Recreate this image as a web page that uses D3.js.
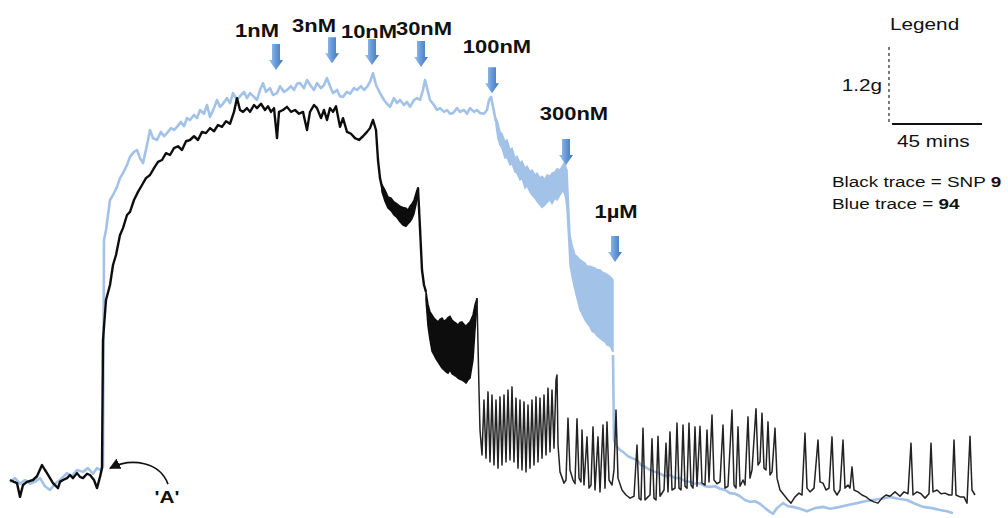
<!DOCTYPE html>
<html>
<head>
<meta charset="utf-8">
<script src="https://cdn.jsdelivr.net/npm/d3@7"></script>
<style>
  html, body { margin: 0; padding: 0; background: #fff; }
  svg { display: block; }
</style>
</head>
<body>
<svg id="chart" width="1008" height="518"></svg>
<script>
// Organ-bath tension recordings: [time (min), tension (g)]
// SNP 9 (black) until the 30 nM dose
const blackTrace = [
  [0,0.64],[2,0.61],[3.5,0.59],[5,0.37],[6.5,0.56],[8.5,0.61],[11.5,0.64],[13.5,0.70],[16,0.88],[17.5,0.80],
  [18.5,0.75],[20,0.67],[21.5,0.59],[24,0.51],[25,0.61],[26.5,0.64],[28.5,0.67],[30,0.72],[31.5,0.67],[33.5,0.75],
  [35,0.69],[36.5,0.67],[38.5,0.74],[40,0.72],[42,0.64],[43.5,0.51],[45,0.69],[46,0.83],
  [46.5,2.88],[48,3.52],[50,3.76],[51.5,4.08],[53,4.24],[55,4.56],[56.5,4.67],[58.5,4.88],[60,4.93],[62,5.12],
  [64,5.25],[66,5.36],[68,5.47],[70,5.52],[72,5.63],[74,5.73],[76,5.76],[78,5.87],[80,5.84],[82,5.95],[84,5.98],
  [86,5.92],[88,6.06],[90,6.08],[92,6.14],[94,6.08],[96,6.21],[98,6.19],[100,6.27],[102,6.22],[104,6.32],[106,6.29],
  [108,6.38],[110,6.34],[112,6.53],[113.5,6.75],[115,6.56],[116.5,6.53],[118.5,6.59],[120,6.53],[122,6.64],[123.5,6.59],
  [125.5,6.66],[127.5,6.56],[129,6.62],[130.5,6.53],[132,6.59],[133.5,6.11],[134.5,6.53],[136.5,6.56],[138.5,6.61],
  [140.5,6.53],[142.5,6.56],[144.5,6.50],[146.5,6.53],[148.5,6.24],[150,6.53],[152,6.64],[153.5,6.59],[155.5,6.43],
  [157,6.56],[158.5,6.40],[160,6.59],[161.5,6.53],[163,6.62],[165,6.29],[166.5,6.43],[168.5,6.21],[170.5,6.18],
  [172.5,6.11],[174.5,6.08],[176.5,6.14],[178.5,6.21],[180,6.27],[181.5,6.40],[183,6.24],[184,5.76],[185,5.47],
  [186.5,5.25],[188,5.15],[190,5.04],[192,4.96],[194,4.90],[196,4.80],[198,4.83],[200,4.86],[201.5,4.96],[203,5.12],
  [204,5.31],[205,4.67],[206,4.00],[207,3.76],[208,3.65]
];
// Oscillation envelopes of the black trace: [time, low, high]
const blackBand10 = [
  [186,5.25,5.36],[187.5,5.10,5.28],[189,4.99,5.17],[190.5,4.95,5.15],[192,4.88,5.09],[193.5,4.84,5.06],
  [195,4.77,5.02],[196.5,4.72,5.00],[198,4.70,4.99],[199,4.74,4.96],[200,4.77,5.02],[201,4.82,5.06],
  [202,4.90,5.12],[203.5,5.12,5.28]
];
const blackBand30 = [
  [208,3.52,3.65],[209,3.10,3.45],[210,2.88,3.33],[211,2.70,3.28],[212,2.64,3.23],[213,2.58,3.20],[214,2.53,3.17],
  [215,2.48,3.21],[216,2.43,3.23],[217,2.40,3.18],[218,2.37,3.20],[219,2.35,3.24],[220,2.40,3.26],[221,2.34,3.20],
  [222,2.32,3.17],[223,2.30,3.15],[224,2.27,3.12],[225,2.25,3.16],[226,2.24,3.17],[227,2.22,3.13],[228,2.19,3.10],
  [229,2.24,3.14],[230,2.27,3.17],[231.5,2.56,3.28],[232.5,3.04,3.44],[233.5,3.44,3.55]
];
// SNP 9 (black) from 100 nM onwards, with phasic contractions
const blackTraceLate = [
  [233.5,3.55],[234.5,2.08],[235,1.44],[236,1.04],
  [237,1.92],[238,0.99],[239,2.05],[240,0.93],[241,2.00],[242,0.88],[243,1.92],[244,0.83],[245,1.97],[246,0.88],
  [247,2.00],[248,0.93],[249,2.08],[250,0.96],[251,2.13],[252,0.93],[253,1.95],[254,0.83],[255,1.92],[256,0.80],
  [257,1.89],[258,0.77],[259,1.84],[260,0.83],[261,1.92],[262,0.88],[263,1.97],[264,0.93],[265,1.95],[266,0.99],
  [267,2.00],[268,1.04],[269,2.11],[270,1.09],[271,2.08],[272,1.15],[273,2.24],[273.5,2.32],[274,1.20],
  [275,0.77],[277,0.59],[278,0.64],[279,1.63],[280,0.80],[281.5,0.64],[282.5,0.58],[283.5,1.62],[284.5,0.67],
  [285.5,0.61],[286,1.44],[287,0.56],[288.5,1.33],[289.5,0.51],[290.5,0.56],[291.5,1.49],[292.5,0.48],[294,1.33],
  [295,0.45],[296.5,1.52],[297.5,0.51],[298.5,1.57],[299.5,0.64],[301,0.56],[302,0.80],[303,1.76],[304,0.67],
  [306,0.48],[308,0.40],[310,0.35],[312,0.38],[313.5,1.20],[314.5,0.35],[315.5,0.32],[316.5,1.47],[317.5,0.32],
  [319,0.37],[320,0.40],[321,1.30],[322,0.35],[323,0.32],[324,1.34],[325,0.38],[327,0.48],[328,1.23],[329,0.45],
  [330,1.41],[331,0.48],[332.5,0.51],[333.5,1.55],[334.5,0.51],[335.5,0.48],[336.5,1.52],[337.5,0.54],[338.5,0.51],
  [339.5,1.55],[340.5,0.56],[341.5,0.51],[342.5,1.49],[343.5,0.54],[345,1.50],[346,0.59],[347.5,0.56],[348.5,1.44],
  [349.5,0.61],[351,1.68],[352,0.64],[353.5,0.58],[355,0.61],[356.5,1.52],[357.5,0.51],[359,0.54],[361,1.76],
  [362,0.56],[363,0.51],[364,1.49],[365,0.54],[366.5,0.64],[367.5,0.56],[369,1.65],[370,0.67],[371,0.80],[373,1.78],
  [374,0.88],[375,0.93],[376,1.71],[377,0.83],[378,0.80],[379,1.57],[380,0.72],[381,0.77],[382.5,1.47],[383.5,0.67],
  [385,0.48],[387,0.40],[389,0.32],[390.5,0.27],[392.5,0.37],[394.5,0.43],[396,0.40],[397.5,1.39],[398.5,0.51],
  [400,0.45],[402,0.51],[404,1.28],[405,0.61],[406.5,0.59],[408,0.48],[409.5,0.51],[411,1.33],[412,0.48],[413.5,0.40],
  [415,0.48],[416.5,1.28],[417.5,0.51],[419,0.56],[420,0.51],[421,0.85],[422,0.48],[424,0.45],[426,0.40],[428,0.37],
  [430,0.32],[432,0.29],[434,0.27],[436,0.35],[438,0.40],[440,0.38],[442.5,0.45],[445,0.38],[447,0.45],[449,0.42],
  [450.5,1.23],[451.5,0.40],[453.5,0.45],[455.5,0.42],[457.5,0.35],[459.5,0.42],[460.5,1.23],[461.5,0.45],[463.5,0.48],
  [465.5,0.42],[467.5,0.43],[469.5,0.40],[471,0.40],[472,1.28],[473,0.40],[475,0.37],[477,0.37],[478.5,0.27],
  [480,1.34],[481,0.48],[482.5,0.40]
];
// Compound 94 (blue) until the 100 nM dose
const blueTrace = [
  [0,0.61],[2.5,0.67],[5,0.58],[7.5,0.64],[10,0.58],[12.5,0.61],[15,0.67],[17.5,0.54],[20,0.48],[22.5,0.58],
  [25,0.64],[28.5,0.75],[31,0.70],[33.5,0.80],[36.5,0.77],[39,0.83],[41.5,0.74],[43.5,0.83],[45,0.80],[46.5,0.86],
  [47,4.48],[48,4.64],[49,4.88],[50,5.12],[51.5,5.20],[53.5,5.33],[55,5.47],[56.5,5.55],[58.5,5.68],[60,5.81],
  [62,5.89],[63.5,5.92],[65,5.79],[66.5,5.71],[68.5,6.00],[70,6.24],[71.5,6.11],[73.5,6.08],[75.5,6.21],[77,6.14],
  [78.5,6.19],[80.5,6.27],[82,6.24],[83.5,6.29],[85.5,6.37],[87,6.30],[88.5,6.43],[90,6.40],[92,6.48],[93.5,6.43],
  [95,6.56],[97,6.50],[98.5,6.64],[100,6.45],[102,6.59],[103.5,6.72],[105,6.61],[106.5,6.66],[108.5,6.75],[110,6.67],
  [111.5,6.83],[113.5,6.72],[115,6.78],[117,6.85],[118.5,6.75],[120,6.83],[122,6.77],[123.5,6.72],[125,6.88],
  [126.5,6.99],[128,6.85],[130,6.91],[131.5,6.80],[133.5,6.83],[135,6.94],[137,6.85],[138.5,6.88],[140.5,6.94],
  [142,6.88],[143.5,6.98],[145,6.99],[147,6.91],[148.5,7.04],[150.5,6.94],[152,6.88],[153.5,6.99],[155.5,6.91],
  [157,6.96],[158.5,7.07],[160,6.94],[161.5,6.83],[163.5,6.88],[165,6.78],[166.5,6.77],[168.5,6.85],[170,6.82],
  [172,6.91],[173.5,6.88],[175.5,6.94],[177,6.88],[178.5,6.93],[180,7.01],[181.5,7.15],[183,6.96],[185,6.83],
  [187,6.72],[188.5,6.66],[190,6.61],[192,6.75],[193.5,6.67],[195,6.72],[197,6.64],[198.5,6.69],[200,6.61],
  [202,6.72],[203.5,6.75],[205,6.72],[206.5,6.88],[207.5,7.04],[209,6.85],[210,6.72],[212,6.64],[213.5,6.56],
  [215,6.59],[217,6.53],[218.5,6.56],[220,6.50],[221.5,6.51],[223.5,6.59],[225,6.53],[227,6.56],[228.5,6.50],
  [230,6.59],[232,6.53],[233.5,6.56],[235,6.51],[237,6.50],[238.5,6.56],[239.5,6.72],[240.5,6.77],[242,6.53],[243,6.37]
];
// Oscillation envelope of the blue trace between 100 nM and 1 µM: [time, low, high]
const blueBand = [
  [243,6.32,6.43],[244,6.10,6.35],[245,6.00,6.21],[246,5.95,6.18],[247.5,5.79,6.05],[248.5,5.80,6.08],
  [250,5.68,5.92],[251,5.70,5.95],[252.5,5.57,5.79],[253.5,5.55,5.82],[255,5.44,5.71],[256,5.47,5.74],
  [257.5,5.31,5.63],[258.5,5.35,5.66],[260,5.25,5.57],[261,5.20,5.60],[262.5,5.15,5.52],[263.5,5.10,5.55],
  [265,5.04,5.47],[266,5.00,5.50],[267.5,5.04,5.45],[268.5,5.08,5.52],[270,5.12,5.50],[271,5.06,5.55],
  [272.5,5.15,5.57],[273.5,5.12,5.62],[275,5.20,5.60],[276.5,5.28,5.68],[277.5,5.20,5.74],[278,5.12,5.63],
  [278.5,4.96,5.60],[279.5,4.40,4.90],[280,4.08,4.56],[281,3.90,4.40],[282.5,3.68,4.24],[283.5,3.55,4.22],
  [285,3.36,4.16],[286,3.30,4.14],[287.5,3.20,4.11],[288.5,3.15,4.06],[290,3.09,4.06],[291,3.02,4.05],
  [292.5,2.99,4.03],[293.5,2.95,4.01],[295,2.91,4.00],[296,2.88,3.97],[297.5,2.85,3.95],[298.5,2.80,3.93],
  [300,2.78,3.90],[301,2.72,3.86],[301.5,2.69,3.84]
];
// Compound 94 (blue) after 1 µM
const blueTraceLate = [
  [301.5,2.64],[302,1.28],[303.5,1.17],[305,1.12],[306.5,1.09],[309,1.02],[311,0.99],[313.5,0.96],[315.5,0.88],
  [317.5,0.85],[320,0.80],[322.5,0.77],[325,0.74],[327.5,0.70],[330,0.72],[332.5,0.67],[335,0.67],[337.5,0.62],
  [340,0.61],[342.5,0.58],[345,0.59],[347.5,0.54],[350,0.53],[352.5,0.54],[355,0.50],[357.5,0.48],[360,0.43],
  [362.5,0.42],[365,0.38],[367.5,0.32],[370,0.29],[372.5,0.30],[375,0.26],[377.5,0.19],[380,0.13],[381.5,0.10],
  [383.5,0.19],[386.5,0.27],[389,0.22],[391.5,0.21],[395,0.18],[398.5,0.14],[402.5,0.19],[406.5,0.21],[410,0.18],
  [415,0.21],[419,0.24],[423.5,0.27],[427.5,0.30],[431.5,0.32],[436,0.34],[440,0.37],[444,0.34],[448.5,0.32],
  [452.5,0.26],[456.5,0.21],[461,0.19],[465,0.16],[468.5,0.14],[471.5,0.11]
];

// Cumulative doses: label, time of addition (min), tension level at the arrow tip (g)
const doseLabels = ["1nM", "3nM", "10nM", "30nM", "100nM", "300nM", "1\u00B5M"];
const doseTimes  = [133, 161, 181, 205.5, 241, 278, 302.5];
const doseLevels = [7.20, 7.31, 7.28, 7.25, 6.83, 5.68, 4.13];

// Scale bars
const scaleBarTension = 1.2;   // g
const scaleBarMinutes = 45;    // min

// Onset of contraction marked 'A'
const markerTime = 49, markerTension = 0.83;

// ---- layout ----
const FONT = "'Liberation Sans', Arial, Helvetica, sans-serif";
const STRETCH = 1.22;  // horizontal stretch of all lettering
const labelOffsets = [[-19,-7],[-18,-5],[-3,-1],[3,-6],[5,-14],[8,-19],[1,-18]];

const svg = d3.select("#chart");

const x = d3.scaleLinear().domain([0, 499]).range([10, 1008]);
const y = d3.scaleLinear().domain([0, 8.32]).range([520, 0]);

const line = d3.line().x(d => x(d[0])).y(d => y(d[1]));
const band = d3.area().x(d => x(d[0])).y0(d => y(d[1])).y1(d => y(d[2]));

const defs = svg.append("defs");
const grad = defs.append("linearGradient").attr("id", "doseArrowFill")
  .attr("x1", 0).attr("x2", 1).attr("y1", 0).attr("y2", 0);
grad.append("stop").attr("offset", "0%").attr("stop-color", "#a5c6ee");
grad.append("stop").attr("offset", "45%").attr("stop-color", "#6a9ddc");
grad.append("stop").attr("offset", "100%").attr("stop-color", "#3d73bb");
defs.append("filter").attr("id", "soft")
  .append("feGaussianBlur").attr("stdDeviation", 0.45);
defs.append("marker").attr("id", "markHead")
  .attr("viewBox", "0 0 10 10").attr("refX", 9).attr("refY", 5)
  .attr("markerWidth", 7).attr("markerHeight", 7).attr("orient", "auto")
  .append("path").attr("d", "M0,0 L10,5 L0,10 Z").attr("fill", "#111");

const BLUE = "#a3c2e8";

// Blue trace (drawn underneath)
const gBlue = svg.append("g").attr("filter", "url(#soft)");
gBlue.append("path").datum(blueBand).attr("d", band)
  .attr("fill", BLUE).attr("stroke", BLUE).attr("stroke-width", 1.5);
gBlue.append("path").datum(blueTrace).attr("d", line)
  .attr("fill", "none").attr("stroke", BLUE).attr("stroke-width", 2.6).attr("stroke-linejoin", "round");
gBlue.append("path").datum(blueTraceLate).attr("d", line)
  .attr("fill", "none").attr("stroke", BLUE).attr("stroke-width", 2.6).attr("stroke-linejoin", "round");

// Black trace
const gBlack = svg.append("g").attr("filter", "url(#soft)");
gBlack.append("path").datum(blackTrace).attr("d", line)
  .attr("fill", "none").attr("stroke", "#111").attr("stroke-width", 2.4).attr("stroke-linejoin", "round");
[blackBand10, blackBand30].forEach(b => {
  gBlack.append("path").datum(b).attr("d", band)
    .attr("fill", "#111").attr("stroke", "#111").attr("stroke-width", 1.5);
});
gBlack.append("path").datum(blackTraceLate).attr("d", line)
  .attr("fill", "none").attr("stroke", "#222").attr("stroke-width", 1.5).attr("stroke-linejoin", "round");

// Text helper with the horizontal stretch of the lettering
function addText(parent, str, px, py, size, weight, anchor) {
  return parent.append("text")
    .attr("transform", `translate(${px},${py}) scale(${STRETCH},1)`)
    .attr("font-family", FONT).attr("font-size", size)
    .attr("font-weight", weight || "normal")
    .attr("text-anchor", anchor || "start")
    .attr("fill", "#111")
    .text(str);
}

// Dose arrows and labels
const gDose = svg.append("g");
doseLabels.forEach((lab, i) => {
  const cx = x(doseTimes[i]);
  const tip = y(doseLevels[i]);
  const top = tip - 26;
  const neck = tip - 10;
  gDose.append("path")
    .attr("d", `M${cx-4},${top} L${cx+4},${top} L${cx+4},${neck} L${cx+7},${neck} L${cx},${tip} L${cx-7},${neck} L${cx-4},${neck} Z`)
    .attr("fill", "url(#doseArrowFill)")
    .attr("filter", "url(#soft)");
  addText(gDose, lab, cx + labelOffsets[i][0], top + labelOffsets[i][1], 18, "bold", "middle");
});

// 'A' annotation with curved arrow
const ax = x(markerTime), ay = y(markerTension);
svg.append("path")
  .attr("d", `M${ax+60},${ay+16} C${ax+52},${ay-6} ${ax+24},${ay-11} ${ax+2},${ay}`)
  .attr("fill", "none").attr("stroke", "#111").attr("stroke-width", 1.6)
  .attr("marker-end", "url(#markHead)");
addText(svg, "'A'", ax + 59, ay + 35, 17, "bold", "middle");

// Scale bars
const barX = 889, barBottom = 122;
const barLen = y(0) - y(scaleBarTension);
svg.append("line")
  .attr("x1", barX).attr("x2", barX).attr("y1", barBottom - barLen).attr("y2", barBottom)
  .attr("stroke", "#444").attr("stroke-width", 1.4).attr("stroke-dasharray", "3,3");
const hLen = x(scaleBarMinutes) - x(0);
svg.append("line")
  .attr("x1", barX + 3).attr("x2", barX + 3 + hLen).attr("y1", barBottom + 2).attr("y2", barBottom + 2)
  .attr("stroke", "#111").attr("stroke-width", 2);

addText(svg, "Legend", 890, 30, 17, "normal", "start");
addText(svg, scaleBarTension + "g", 882, 91, 17, "normal", "end");
addText(svg, scaleBarMinutes + " mins", 897, 147, 17, "normal", "start");

const t1 = addText(svg, "Black trace = SNP ", 832, 187, 15.5, "normal", "start");
t1.append("tspan").attr("font-weight", "bold").text("9");
const t2 = addText(svg, "Blue trace = ", 832, 209, 15.5, "normal", "start");
t2.append("tspan").attr("font-weight", "bold").text("94");
</script>
</body>
</html>
